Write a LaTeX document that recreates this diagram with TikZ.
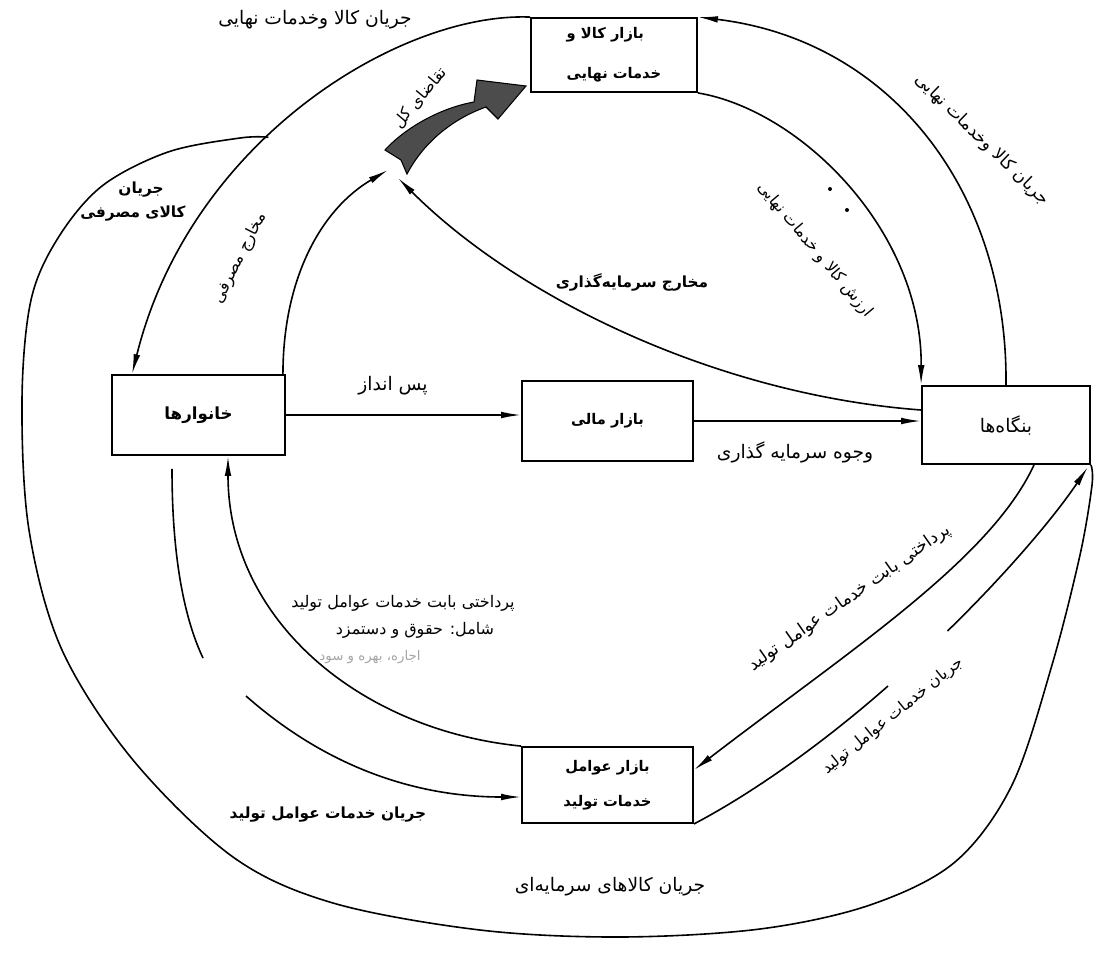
\documentclass[tikz,border=0pt]{standalone}
\usepackage{fontspec}
\usetikzlibrary{arrows.meta,calc}
\newfontfamily\fa[Script=Arabic]{DejaVu Sans}
\TeXXeTstate=1
\newcommand{\rtx}[1]{\beginR #1\endR}
\begin{document}
\begin{tikzpicture}[x=0.75pt,y=-0.75pt,
  box/.style={draw, line width=1.4pt, rectangle, inner sep=0pt, font=\fa\bfseries\fontsize{11}{13}\selectfont},
  flow/.style={line width=1.2pt},
  arr/.style={flow, -{Latex[length=15pt,width=5pt]}},
  lbl/.style={inner sep=1pt, font=\fa\fontsize{14}{16}\selectfont},
  rlbl/.style={inner sep=1pt, font=\fa\fontsize{12}{14}\selectfont},
  blbl/.style={inner sep=1pt, font=\fa\bfseries\fontsize{11.5}{13}\selectfont},
  faint/.style={inner sep=1pt, text=black!35, font=\fa\fontsize{10}{12}\selectfont}]
\useasboundingbox (0,0) rectangle (1099,954);
\fill[white] (0,0) rectangle (1099,954);

% boxes
\node[box, minimum width=124.5pt, minimum height=55.5pt, align=left, font=\fa\bfseries\fontsize{11}{30}\selectfont] (gm) at (614,55) {\rtx{بازار کالا و}\\\rtx{خدمات نهایی}};
\node[box, minimum width=129.75pt, minimum height=60pt, font=\fa\bfseries\fontsize{12.5}{14}\selectfont] (hh) at (198.5,415) {\rtx{خانوارها}};
\node[box, minimum width=128.25pt, minimum height=60pt] (fin) at (607.5,421) {\rtx{بازار مالی}};
\node[box, minimum width=126pt, minimum height=58.5pt, font=\fa\fontsize{14}{16}\selectfont] (firms) at (1006,425) {\rtx{بنگاه‌ها}};
\node[box, minimum width=128.25pt, minimum height=57pt, align=center, font=\fa\bfseries\fontsize{11}{26}\selectfont] (fm) at (607.5,785) {\rtx{بازار عوامل}\\\rtx{خدمات تولید}};

% free ends
\coordinate (cs) at (388,170);
\coordinate (ie) at (398,178);
\coordinate (s1) at ($(hh.south)+(-26.5,13)$);
\coordinate (s2) at (203,658);
\coordinate (s3) at (246,696);
\coordinate (g1) at (888,686);
\coordinate (g2) at (947.5,631);

% consumer goods flow (goods market -> households), with branch point
\draw[arr] (gm.north west) .. controls (400,12) and (190,140) .. coordinate[pos=0.58] (br) ($(hh.north west)+(21,0)$);

% capital goods flow (outer loop)
\draw[flow] plot[smooth, tension=0.55] coordinates {(br) (240,138) (168,152) (102,186) (58,238) (31,300) (22,400) (29,530) (62,650) (133,760) (233,857) (333,903) (480,930) (620,937) (760,929) (870,905) (955,862) (1012,785) (1052,665) (1080,555) (1092,485) (firms.south east)};

% consumption spending
\draw[arr] ($(hh.north east)+(-3,0)$) .. controls (283,280) and (320,210) .. (cs);

% investment spending
\draw[arr] ($(firms.west)+(0,-15)$) .. controls (720,395) and (520,300) .. (ie);

% final goods flow firms -> goods market
\draw[arr] (firms.north) .. controls (1008,190) and (890,40) .. (gm.north east);
% value of final goods -> firms
\draw[arr] (gm.south east) .. controls (800,110) and (922,230) .. (firms.north west);

% saving, investment funds
\draw[arr] (hh.east) -- (hh.east -| fin.west);
\draw[arr] (fin.east) -- (fin.east -| firms.west);

% payments for factor services firms -> factor market
\draw[arr] ($(firms.south)+(28,0)$) .. controls (990,560) and (850,650) .. ($(fm.east)+(0,-15)$);
% factor services flow factor market -> firms
\draw[flow] (fm.south east) .. controls (751,794) and (821,745) .. (g1);
\draw[arr] (g2) .. controls (1003,577) and (1053,519) .. ($(firms.south east)+(-3,2)$);

% factor services households -> factor market
\draw[flow] (s1) .. controls (172,560) and (185,620) .. (s2);
\draw[arr] (s3) .. controls (330,770) and (420,797) .. ($(fm.west)+(0,12)$);
% payments factor market -> households
\draw[arr] (fm.north west) .. controls (360,730) and (228,620) .. ($(hh.south)+(29.5,0)$);

% aggregate demand arrow
\filldraw[fill=black!70, draw=black, line width=0.8pt] (385,150) .. controls (405,128) and (440,108) .. (474,102) -- (477,80) -- (526,86) -- (498,119) -- (486,107) .. controls (455,118) and (425,140) .. (407,174) -- (401,160) -- cycle;

% labels
\node[lbl] (t1) at (315,20) {\rtx{جریان کالا وخدمات نهایی}};
\node[blbl] (t2) at (141,190) {\rtx{جریان}};
\node[blbl] (t3) at (133,214) {\rtx{کالای مصرفی}};
\node[rlbl, rotate=63] (t4) at (240,258) {\rtx{مخارج مصرفی}};
\node[rlbl, rotate=50] (t5) at (420,98) {\rtx{تقاضای کل}};
\node[blbl] (t6) at (632,282) {\rtx{مخارج سرمایه‌گذاری}};
\node[rlbl, rotate=-50] (t7) at (815,250) {\rtx{ارزش کالا و خدمات نهایی}};
\fill (830,189) circle (1.5pt);
\fill (847,210) circle (1.5pt);
\node[rlbl, font=\fa\fontsize{13}{15}\selectfont, rotate=-44] (t8) at (982,140) {\rtx{جریان کالا وخدمات نهایی}};
\node[lbl] (t9) at (393,386) {\rtx{پس انداز}};
\node[lbl] (t10) at (795,452) {\rtx{وجوه سرمایه گذاری}};
\node[rlbl, font=\fa\fontsize{13}{15}\selectfont, rotate=35] (t11) at (850,598) {\rtx{پرداختی بابت خدمات عوامل تولید}};
\node[rlbl, rotate=39] (t12) at (893,716) {\rtx{جریان خدمات عوامل تولید}};
\node[blbl] (t13) at (328,815) {\rtx{جریان خدمات عوامل تولید}};
\node[lbl] (t14) at (610,887) {\rtx{جریان کالاهای سرمایه‌ای}};
\node[rlbl] (t15) at (403,603) {\rtx{پرداختی بابت خدمات عوامل تولید}};
\node[rlbl] (t16) at (415,630) {\rtx{شامل: حقوق و دستمزد}};
\node[faint] (t17) at (370,657) {\rtx{اجاره، بهره و سود}};
\end{tikzpicture}
\end{document}
